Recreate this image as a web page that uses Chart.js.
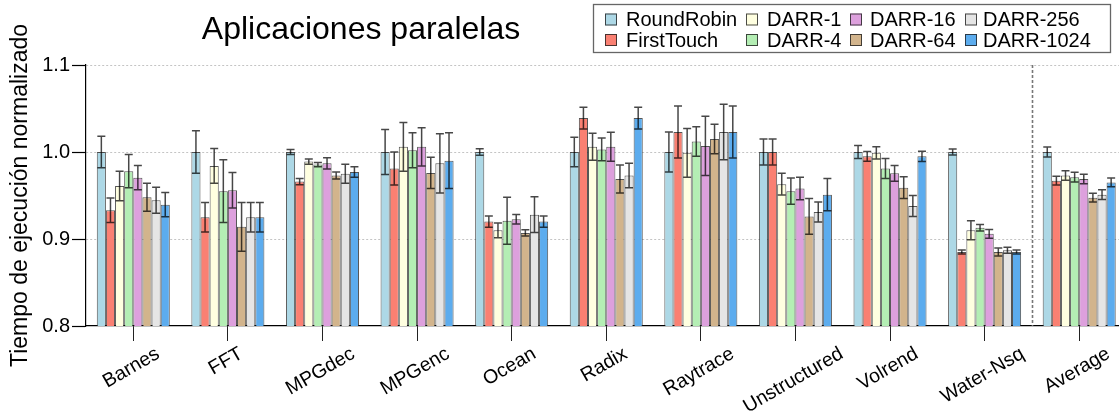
<!DOCTYPE html>
<html>
<head>
<meta charset="utf-8">
<script src="https://cdn.jsdelivr.net/npm/chart.js@4/dist/chart.umd.min.js"></script>
<style>
  html, body { margin: 0; padding: 0; background: #fff; overflow: hidden; width: 1119px; height: 416px; }
  #wrap { width: 1130px; height: 416px; }
</style>
</head>
<body>
<div id="wrap"><canvas id="c" width="1130" height="416"></canvas></div>
<script>
// Benchmarks on the x axis
const categories = ['Barnes', 'FFT', 'MPGdec', 'MPGenc', 'Ocean', 'Radix', 'Raytrace', 'Unstructured', 'Volrend', 'Water-Nsq', 'Average'];

// Normalised execution time per policy, with its error (half-range)
const roundRobin     = [1.000, 1.000, 1.000, 1.000, 1.000, 1.000, 1.000, 1.000, 1.000, 1.000, 1.000];
const roundRobinErr  = [0.018, 0.0245, 0.003, 0.026, 0.0036, 0.017, 0.023, 0.015, 0.0075, 0.0035, 0.0057];

const firstTouch     = [0.933, 0.925, 0.966, 0.981, 0.920, 1.039, 1.023, 1.000, 0.995, 0.885, 0.967];
const firstTouchErr  = [0.014, 0.017, 0.0035, 0.019, 0.0065, 0.0125, 0.030, 0.015, 0.0057, 0.0023, 0.005];

const darr1          = [0.961, 0.984, 0.989, 1.006, 0.910, 1.006, 0.999, 0.963, 0.999, 0.910, 0.973];
const darr1Err       = [0.017, 0.020, 0.003, 0.028, 0.0085, 0.0155, 0.028, 0.0125, 0.007, 0.011, 0.0054];

const darr4          = [0.978, 0.955, 0.9855, 1.002, 0.921, 1.003, 1.012, 0.955, 0.981, 0.913, 0.971];
const darr4Err       = [0.019, 0.036, 0.0025, 0.020, 0.027, 0.013, 0.017, 0.015, 0.0115, 0.0037, 0.0056];

const darr16         = [0.9705, 0.956, 0.987, 1.006, 0.9226, 1.006, 1.007, 0.958, 0.9755, 0.906, 0.969];
const darr16Err      = [0.014, 0.0205, 0.0065, 0.022, 0.0055, 0.0167, 0.034, 0.013, 0.009, 0.005, 0.0055];

const darr64         = [0.948, 0.914, 0.973, 0.976, 0.907, 0.969, 1.015, 0.926, 0.959, 0.885, 0.9475];
const darr64Err      = [0.016, 0.028, 0.004, 0.018, 0.0035, 0.016, 0.017, 0.0205, 0.0125, 0.0046, 0.005];

const darr256        = [0.9445, 0.925, 0.975, 0.987, 0.928, 0.973, 1.023, 0.931, 0.938, 0.887, 0.951];
const darr256Err     = [0.015, 0.017, 0.011, 0.034, 0.0205, 0.014, 0.032, 0.0115, 0.012, 0.0035, 0.0055];

const darr1024       = [0.9395, 0.925, 0.977, 0.990, 0.920, 1.039, 1.023, 0.951, 0.995, 0.885, 0.965];
const darr1024Err    = [0.014, 0.017, 0.006, 0.032, 0.0065, 0.0125, 0.030, 0.0185, 0.006, 0.0023, 0.005];

const seriesNames  = ['RoundRobin', 'FirstTouch', 'DARR-1', 'DARR-4', 'DARR-16', 'DARR-64', 'DARR-256', 'DARR-1024'];
const seriesValues = [roundRobin, firstTouch, darr1, darr4, darr16, darr64, darr256, darr1024];
const seriesErrors = [roundRobinErr, firstTouchErr, darr1Err, darr4Err, darr16Err, darr64Err, darr256Err, darr1024Err];
const seriesColors = ['#ADD8E6', '#FA8072', '#FFFFE0', '#B4EEB4', '#DDA0DD', '#D2B48C', '#E5E5E5', '#5CACEE'];

// Y axis
const yTickLabels = ['0.8', '0.9', '1.0', '1.1'];
const yMin = 0.8, yMax = 1.1, yStep = 0.1;

const chartTitle = 'Aplicaciones paralelas';
const yTitle = 'Tiempo de ejecución normalizado';

const FONT = '"Liberation Sans", Arial, Helvetica, sans-serif';

const datasets = seriesNames.map((name, i) => ({
  label: name,
  data: seriesValues[i],
  errors: seriesErrors[i],
  backgroundColor: seriesColors[i],
  borderColor: 'rgba(30,30,30,0.75)',
  borderWidth: 1,
  borderSkipped: false,
  barPercentage: 1.0,
  categoryPercentage: 0.772
}));

const decorations = {
  id: 'decorations',
  beforeDatasetsDraw(chart) {
    // dashed separator between the benchmarks and the average
    const { ctx, chartArea: area } = chart;
    const xs = chart.scales.x;
    const n = categories.length;
    const sep = (xs.getPixelForTick(n - 2) + xs.getPixelForTick(n - 1)) / 2;
    ctx.save();
    ctx.strokeStyle = '#777';
    ctx.lineWidth = 1.6;
    ctx.setLineDash([3, 2]);
    ctx.beginPath();
    ctx.moveTo(Math.round(sep) + 0.5, area.top);
    ctx.lineTo(Math.round(sep) + 0.5, area.bottom);
    ctx.stroke();
    ctx.restore();
  },
  afterDatasetsDraw(chart) {
    // error bars with caps
    const { ctx } = chart;
    const ys = chart.scales.y;
    ctx.save();
    ctx.strokeStyle = 'rgba(0,0,0,0.72)';
    ctx.lineWidth = 1.5;
    chart.data.datasets.forEach((ds, di) => {
      const meta = chart.getDatasetMeta(di);
      meta.data.forEach((bar, i) => {
        const v = ds.data[i], e = ds.errors[i];
        const yt = ys.getPixelForValue(v + e);
        const yb = ys.getPixelForValue(v - e);
        const x = bar.x;
        const cap = 4;
        ctx.beginPath();
        ctx.moveTo(x, yt); ctx.lineTo(x, yb);
        ctx.moveTo(x - cap, yt); ctx.lineTo(x + cap, yt);
        ctx.moveTo(x - cap, yb); ctx.lineTo(x + cap, yb);
        ctx.stroke();
      });
    });
    ctx.restore();
  },
  afterDraw(chart) {
    const { ctx, chartArea: area } = chart;
    const xs = chart.scales.x;

    // title
    ctx.save();
    ctx.fillStyle = '#000';
    ctx.font = `32px ${FONT}`;
    ctx.textAlign = 'center';
    ctx.textBaseline = 'alphabetic';
    ctx.fillText(chartTitle, 361, 39);
    ctx.restore();

    // y axis title
    ctx.save();
    ctx.fillStyle = '#000';
    ctx.font = `23px ${FONT}`;
    ctx.translate(21, (area.top + area.bottom) / 2);
    ctx.rotate(-Math.PI / 2);
    ctx.textAlign = 'center';
    ctx.textBaseline = 'middle';
    ctx.fillText(yTitle, 0, 0);
    ctx.restore();

    // rotated category labels, centred under each tick
    ctx.save();
    ctx.fillStyle = '#000';
    const fs = 19.5;
    ctx.font = `${fs}px ${FONT}`;
    const th = Math.PI / 6;
    categories.forEach((lab, i) => {
      const tx = xs.getPixelForTick(i);
      const w = ctx.measureText(lab).width;
      const bh = w * Math.sin(th) + fs * Math.cos(th);
      const cy = area.bottom + 18 + bh / 2;
      ctx.save();
      ctx.translate(tx - 2, cy);
      ctx.rotate(-th);
      ctx.textAlign = 'center';
      ctx.textBaseline = 'middle';
      ctx.fillText(lab, 0, 0);
      ctx.restore();
    });
    ctx.restore();

    // legend box, 4 columns x 2 rows
    ctx.save();
    ctx.fillStyle = '#fff';
    ctx.fillRect(593, 4, 518, 48);
    ctx.strokeStyle = '#666';
    ctx.lineWidth = 1.3;
    ctx.strokeRect(593.5, 4.5, 517, 48);
    const colSwatch = [605, 746, 850, 965];
    const colText = [626, 767, 870, 983];
    const rowY = [19.5, 40];
    ctx.font = `20px ${FONT}`;
    ctx.textBaseline = 'middle';
    ctx.textAlign = 'left';
    chart.data.datasets.forEach((ds, i) => {
      const c = Math.floor(i / 2), r = i % 2;
      const sx = colSwatch[c], sy = rowY[r] - 6;
      ctx.fillStyle = ds.backgroundColor;
      ctx.fillRect(sx, sy, 12, 12);
      ctx.strokeStyle = 'rgba(30,30,30,0.8)';
      ctx.lineWidth = 1;
      ctx.strokeRect(sx + 0.5, sy + 0.5, 11, 11);
      ctx.fillStyle = '#000';
      ctx.fillText(ds.label, colText[c], rowY[r] + 1);
    });
    ctx.restore();
  }
};

new Chart(document.getElementById('c'), {
  type: 'bar',
  data: { labels: categories, datasets },
  options: {
    responsive: false,
    animation: false,
    devicePixelRatio: 1,
    layout: { padding: { left: 0, top: 65, right: 3.5, bottom: 0 } },
    plugins: {
      legend: { display: false },
      title: { display: false },
      tooltip: { enabled: false }
    },
    scales: {
      x: {
        offset: true,
        ticks: { display: false },
        grid: {
          offset: false,
          drawOnChartArea: false,
          drawTicks: true,
          tickLength: 15,
          tickColor: '#222',
          tickWidth: 1
        },
        border: { display: true, color: '#000', width: 1.2 },
        afterFit(scale) { scale.height = 90; }
      },
      y: {
        min: yMin,
        max: yMax,
        ticks: {
          stepSize: yStep,
          color: '#000',
          padding: 2,
          font: { family: FONT, size: 20 },
          callback: (v, i) => yTickLabels[i]
        },
        grid: {
          color: (c) => (c.tick && Math.abs(c.tick.value - yMin) < 1e-9) ? 'rgba(0,0,0,0)' : '#c4c4c4',
          lineWidth: 1,
          tickLength: 14,
          tickColor: '#000',
          tickWidth: 1.2
        },
        border: { display: true, color: '#000', width: 1.2, dash: [2, 2] },
        afterFit(scale) { scale.width = 86; }
      }
    }
  },
  plugins: [decorations]
});
</script>
</body>
</html>
